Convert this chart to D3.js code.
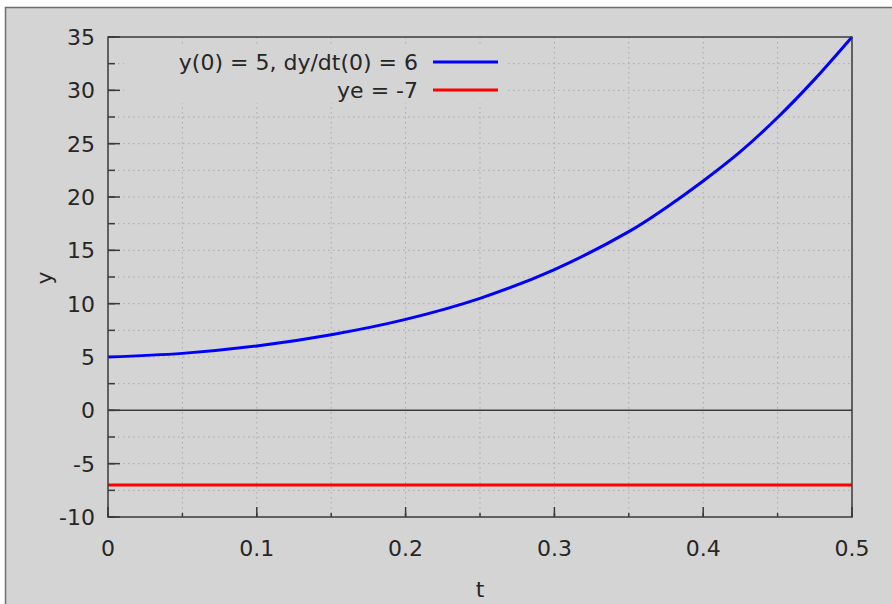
<!DOCTYPE html>
<html><head><meta charset="utf-8">
<script src="https://cdn.jsdelivr.net/npm/d3@7"></script>
<style>html,body{margin:0;padding:0;background:#fff;}svg{display:block;}</style>
</head><body>
<svg id="c" width="892" height="604"></svg>
<script>
// Data
const tValues = [0, 0.05, 0.1, 0.15, 0.2, 0.25, 0.3, 0.35, 0.375, 0.4, 0.425, 0.45, 0.475, 0.5];
const yValues = [5, 5.34, 6.03, 7.09, 8.53, 10.5, 13.2, 16.75, 19.0, 21.5, 24.25, 27.45, 31.05, 35];
const yeValue = -7;
const xTicks = [0, 0.1, 0.2, 0.3, 0.4, 0.5];
const yTicks = [-10, -5, 0, 5, 10, 15, 20, 25, 30, 35];
const xMinor = [0, 0.05, 0.1, 0.15, 0.2, 0.25, 0.3, 0.35, 0.4, 0.45, 0.5];
const yMinor = [-10, -7.5, -5, -2.5, 0, 2.5, 5, 7.5, 10, 12.5, 15, 17.5, 20, 22.5, 25, 27.5, 30, 32.5, 35];
const legendLabels = ["y(0) = 5, dy/dt(0) = 6", "ye = -7"];
const seriesColors = ["#0000ff", "#ff0000"];

const svg = d3.select("#c");
const font = "'DejaVu Sans', 'Noto Sans', sans-serif";
const fs = 22;
const txtC = "#262626";
const L = 108, R = 852, T = 37, B = 517;
const x = d3.scaleLinear().domain([0, 0.5]).range([L, R]);
const y = d3.scaleLinear().domain([-10, 35]).range([B, T]);

// window background
svg.append("rect").attr("x", 5).attr("y", 7).attr("width", 887).attr("height", 597).attr("fill", "#d4d4d4");
svg.append("path").attr("d", "M5.5,604V7.5H892").attr("fill", "none").attr("stroke", "#6e6e6e").attr("stroke-width", 1.5);

// grid
const gridC = "#a9a9a9";
svg.append("g").selectAll("line").data(xMinor.filter(d => d > 0 && d < 0.5)).join("line")
  .attr("x1", d => x(d)).attr("x2", d => x(d)).attr("y1", T).attr("y2", B)
  .attr("stroke", gridC).attr("stroke-width", 1).attr("stroke-dasharray", "1.5,3.5");
svg.append("g").selectAll("line").data(yMinor.filter(d => d > -10 && d < 35 && d !== 0)).join("line")
  .attr("x1", L).attr("x2", R).attr("y1", d => y(d)).attr("y2", d => y(d))
  .attr("stroke", gridC).attr("stroke-width", 1).attr("stroke-dasharray", "1.5,3.5");

// legend box background (hides grid)
svg.append("rect").attr("x", 124).attr("y", 45).attr("width", 382).attr("height", 58).attr("fill", "#d4d4d4");

// zero axis
svg.append("line").attr("x1", L).attr("x2", R).attr("y1", y(0)).attr("y2", y(0))
  .attr("stroke", "#3a3a3a").attr("stroke-width", 1.5);

// ticks
const axC = "#3a3a3a";
const xa = svg.append("g");
xa.selectAll("line.mn").data(xMinor).join("line").attr("class", "mn")
  .attr("x1", d => x(d)).attr("x2", d => x(d)).attr("y1", B).attr("y2", B - 4)
  .attr("stroke", axC).attr("stroke-width", 1.5);
xa.selectAll("line.mj").data(xTicks).join("line").attr("class", "mj")
  .attr("x1", d => x(d)).attr("x2", d => x(d)).attr("y1", B).attr("y2", B - 10)
  .attr("stroke", axC).attr("stroke-width", 1.5);
xa.selectAll("text").data(xTicks).join("text")
  .attr("x", d => x(d)).attr("y", 556).attr("text-anchor", "middle")
  .attr("font-family", font).attr("font-size", fs).attr("fill", txtC)
  .text(d => d3.format("")(d));
const ya = svg.append("g");
ya.selectAll("line.mn").data(yMinor).join("line").attr("class", "mn")
  .attr("x1", L).attr("x2", L + 7).attr("y1", d => y(d)).attr("y2", d => y(d))
  .attr("stroke", axC).attr("stroke-width", 1.5);
ya.selectAll("line.mj").data(yTicks).join("line").attr("class", "mj")
  .attr("x1", L).attr("x2", L + 12).attr("y1", d => y(d)).attr("y2", d => y(d))
  .attr("stroke", axC).attr("stroke-width", 1.5);
ya.selectAll("text").data(yTicks).join("text")
  .attr("x", 95).attr("y", d => y(d) + 8).attr("text-anchor", "end")
  .attr("font-family", font).attr("font-size", fs).attr("fill", txtC)
  .text(d => d);

// axis labels
svg.append("text").attr("x", 480).attr("y", 597).attr("text-anchor", "middle")
  .attr("font-family", font).attr("font-size", fs).attr("fill", txtC).text("t");
svg.append("text").attr("transform", "translate(52,278) rotate(-90)").attr("text-anchor", "middle")
  .attr("font-family", font).attr("font-size", fs).attr("fill", txtC).text("y");

// series
const line = d3.line().x(d => x(d[0])).y(d => y(d[1])).curve(d3.curveCatmullRom.alpha(0.5));
svg.append("path").datum([[0, yeValue], [0.5, yeValue]]).attr("d", line)
  .attr("fill", "none").attr("stroke", seriesColors[1]).attr("stroke-width", 3);
svg.append("path").datum(tValues.map((t, i) => [t, yValues[i]])).attr("d", line)
  .attr("fill", "none").attr("stroke", seriesColors[0]).attr("stroke-width", 3);

// border
svg.append("rect").attr("x", L).attr("y", T).attr("width", R - L).attr("height", B - T)
  .attr("fill", "none").attr("stroke", axC).attr("stroke-width", 1.5);

// legend
legendLabels.forEach((lab, i) => {
  const ly = 62 + i * 28;
  svg.append("text").attr("x", 418).attr("y", ly + 8).attr("text-anchor", "end")
    .attr("font-family", font).attr("font-size", fs).attr("fill", txtC).text(lab);
  svg.append("line").attr("x1", 433).attr("x2", 498).attr("y1", ly).attr("y2", ly)
    .attr("stroke", seriesColors[i]).attr("stroke-width", 3);
});
</script>
</body></html>
